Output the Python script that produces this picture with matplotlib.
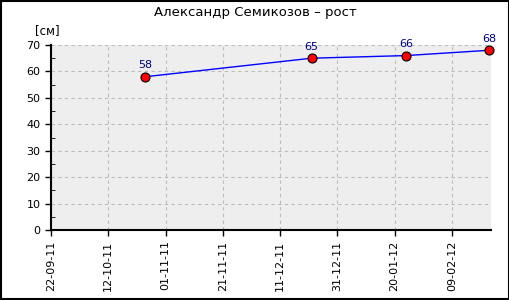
import matplotlib
matplotlib.use("Agg")
import matplotlib.pyplot as plt
from matplotlib.ticker import MultipleLocator
import datetime as dt

dates = ["2011-10-25", "2011-12-22", "2012-01-24", "2012-02-22"]
values = [58, 65, 66, 68]
tick_dates = ["2011-09-22", "2011-10-12", "2011-11-01", "2011-11-21",
              "2011-12-11", "2011-12-31", "2012-01-20", "2012-02-09"]
title = "Александр Семикозов – рост"
unit = "[см]"

x = [dt.datetime.strptime(d, "%Y-%m-%d") for d in dates]
tx = [dt.datetime.strptime(d, "%Y-%m-%d") for d in tick_dates]

fig = plt.figure(figsize=(5.1, 3.0), dpi=100)
fig.patch.set_facecolor("white")
ax = fig.add_axes([51/510, 70/300, 439.7/510, 185/300])
ax.set_facecolor("#eeeeee")

ax.plot(x, values, color="blue", lw=1, zorder=3)
ax.plot(x, values, ls="none", marker="o", ms=6.5, mfc="red", mec="black", mew=0.8, zorder=4, clip_on=False)
for xi, v in zip(x, values):
    ax.annotate(str(v), (xi, v), xytext=(0, 4.5), textcoords="offset points",
                ha="center", va="bottom", fontsize=8, color="#000080")

ax.set_xlim(tx[0], x[-1] + dt.timedelta(hours=14))
ax.set_ylim(0, 70)
ax.set_xticks(tx)
ax.set_xticklabels([d.strftime("%d-%m-%y") for d in tx], rotation=90, fontsize=8)
ax.yaxis.set_major_locator(MultipleLocator(10))
ax.yaxis.set_minor_locator(MultipleLocator(5))
ax.tick_params(axis="y", labelsize=8, length=4, width=1, direction="out")
ax.tick_params(axis="y", which="minor", length=3, direction="in")
ax.tick_params(axis="x", length=4, width=1, direction="out")
ax.grid(True, color="#bbbbbb", ls=(0, (3, 3)), lw=0.8)
for s in ["top", "right"]:
    ax.spines[s].set_visible(False)
for s in ["left", "bottom"]:
    ax.spines[s].set_linewidth(1.5)

fig.text(255/510, 1 - 12.5/300, title, ha="center", va="center", fontsize=9.5)
fig.text(47/510, 1 - 31/300, unit, ha="center", va="center", fontsize=8.5)

border = plt.Rectangle((0.001, 0.002), 0.997, 0.995, transform=fig.transFigure,
                       fill=False, edgecolor="black", lw=1.5)
fig.patches.append(border)

fig.savefig("out.png", dpi=100)
